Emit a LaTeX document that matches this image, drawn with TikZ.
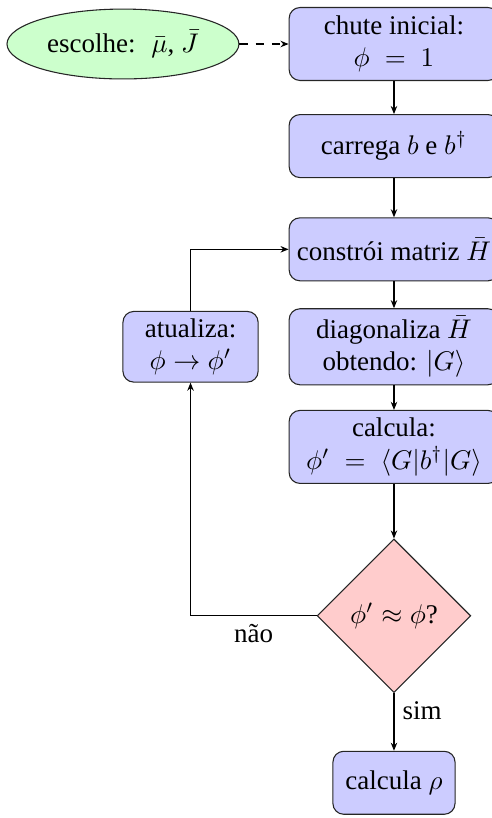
\documentclass[tikz,border=0pt]{standalone}
\usepackage{fontspec}
\setmainfont{Liberation Serif}
\usepackage{tikz}
\usetikzlibrary{arrows.meta, positioning, shapes.geometric}
\usepackage{xcolor}

\begin{document}
\begin{tikzpicture}[
    proc/.style={
        draw=black!85, fill=blue!20, rounded corners=4pt,
        minimum width=2.73cm, minimum height=0.82cm,
        inner xsep=2pt, inner ysep=3pt, align=center
    },
    tall/.style={minimum height=0.95cm, inner ysep=1pt},
    choice/.style={
        draw=black!85, fill=red!20, diamond, aspect=1,
        minimum width=2.0cm, minimum height=2.0cm, inner sep=0pt
    },
    start/.style={
        draw=black!85, fill=green!20, ellipse, inner sep=0pt,
        minimum width=3.02cm, minimum height=0.91cm
    },
    arr/.style={-{Stealth[length=3pt, width=2.4pt]}, thin},
    lbl/.style={font=\normalsize, inner sep=3pt},
    every node/.style={font=\normalsize}
]
% frame of the picture (right side is cut)
\useasboundingbox (0,0) rectangle (6.406,-10.651);

% =============================================
% MAIN COLUMN
% =============================================
\node[proc, tall] (guess) at (5.13,-0.573) {chute inicial:\\$\phi \;=\; 1$};
\node[start, left=0.64cm of guess] (choose) {escolhe:~ $\bar{\mu}$, $\bar{J}$};

\node[proc, below=0.43cm of guess] (load) {carrega $b$ e $b^\dagger$};
\node[proc, below=0.51cm of load] (build) {constrói matriz $\bar{H}$};
\node[proc, tall, minimum height=0.99cm, below=0.35cm of build] (diag) {diagonaliza $\bar{H}$\\obtendo: $|G\rangle$};
\node[proc, tall, below=0.32cm of diag] (calc) {calcula:\\$\phi' \;=\; \langle G|b^\dagger|G\rangle$};

\node[choice, below=0.71cm of calc] (test) {$\phi' \approx \phi$?};
\node[proc, minimum width=1.59cm, below=0.75cm of test] (rho) {calcula $\rho$};

% update box on the left
\node[proc, tall, minimum width=1.76cm, minimum height=0.92cm, left=0.39cm of diag] (update) {atualiza:\\$\phi \to \phi'$};

% =============================================
% CONNECTORS
% =============================================
\draw[arr, dashed] (choose.east) -- (guess.west);
\draw[arr] (guess.south) -- (load.north);
\draw[arr] (load.south) -- (build.north);
\draw[arr] (build.south) -- (diag.north);
\draw[arr] (diag.south) -- (calc.north);
\draw[arr] (calc.south) -- (test.north);

\draw[arr] (test.south) -- (rho.north)
    node[lbl, right, pos=0.3] {sim};

% loop back when not converged
\draw[arr] (test.west) -- (update.south |- test.west)
    node[lbl, below, midway] {não}
    -- (update.south);
\draw[arr] (update.north) |- (build.west);

\end{tikzpicture}
\end{document}
